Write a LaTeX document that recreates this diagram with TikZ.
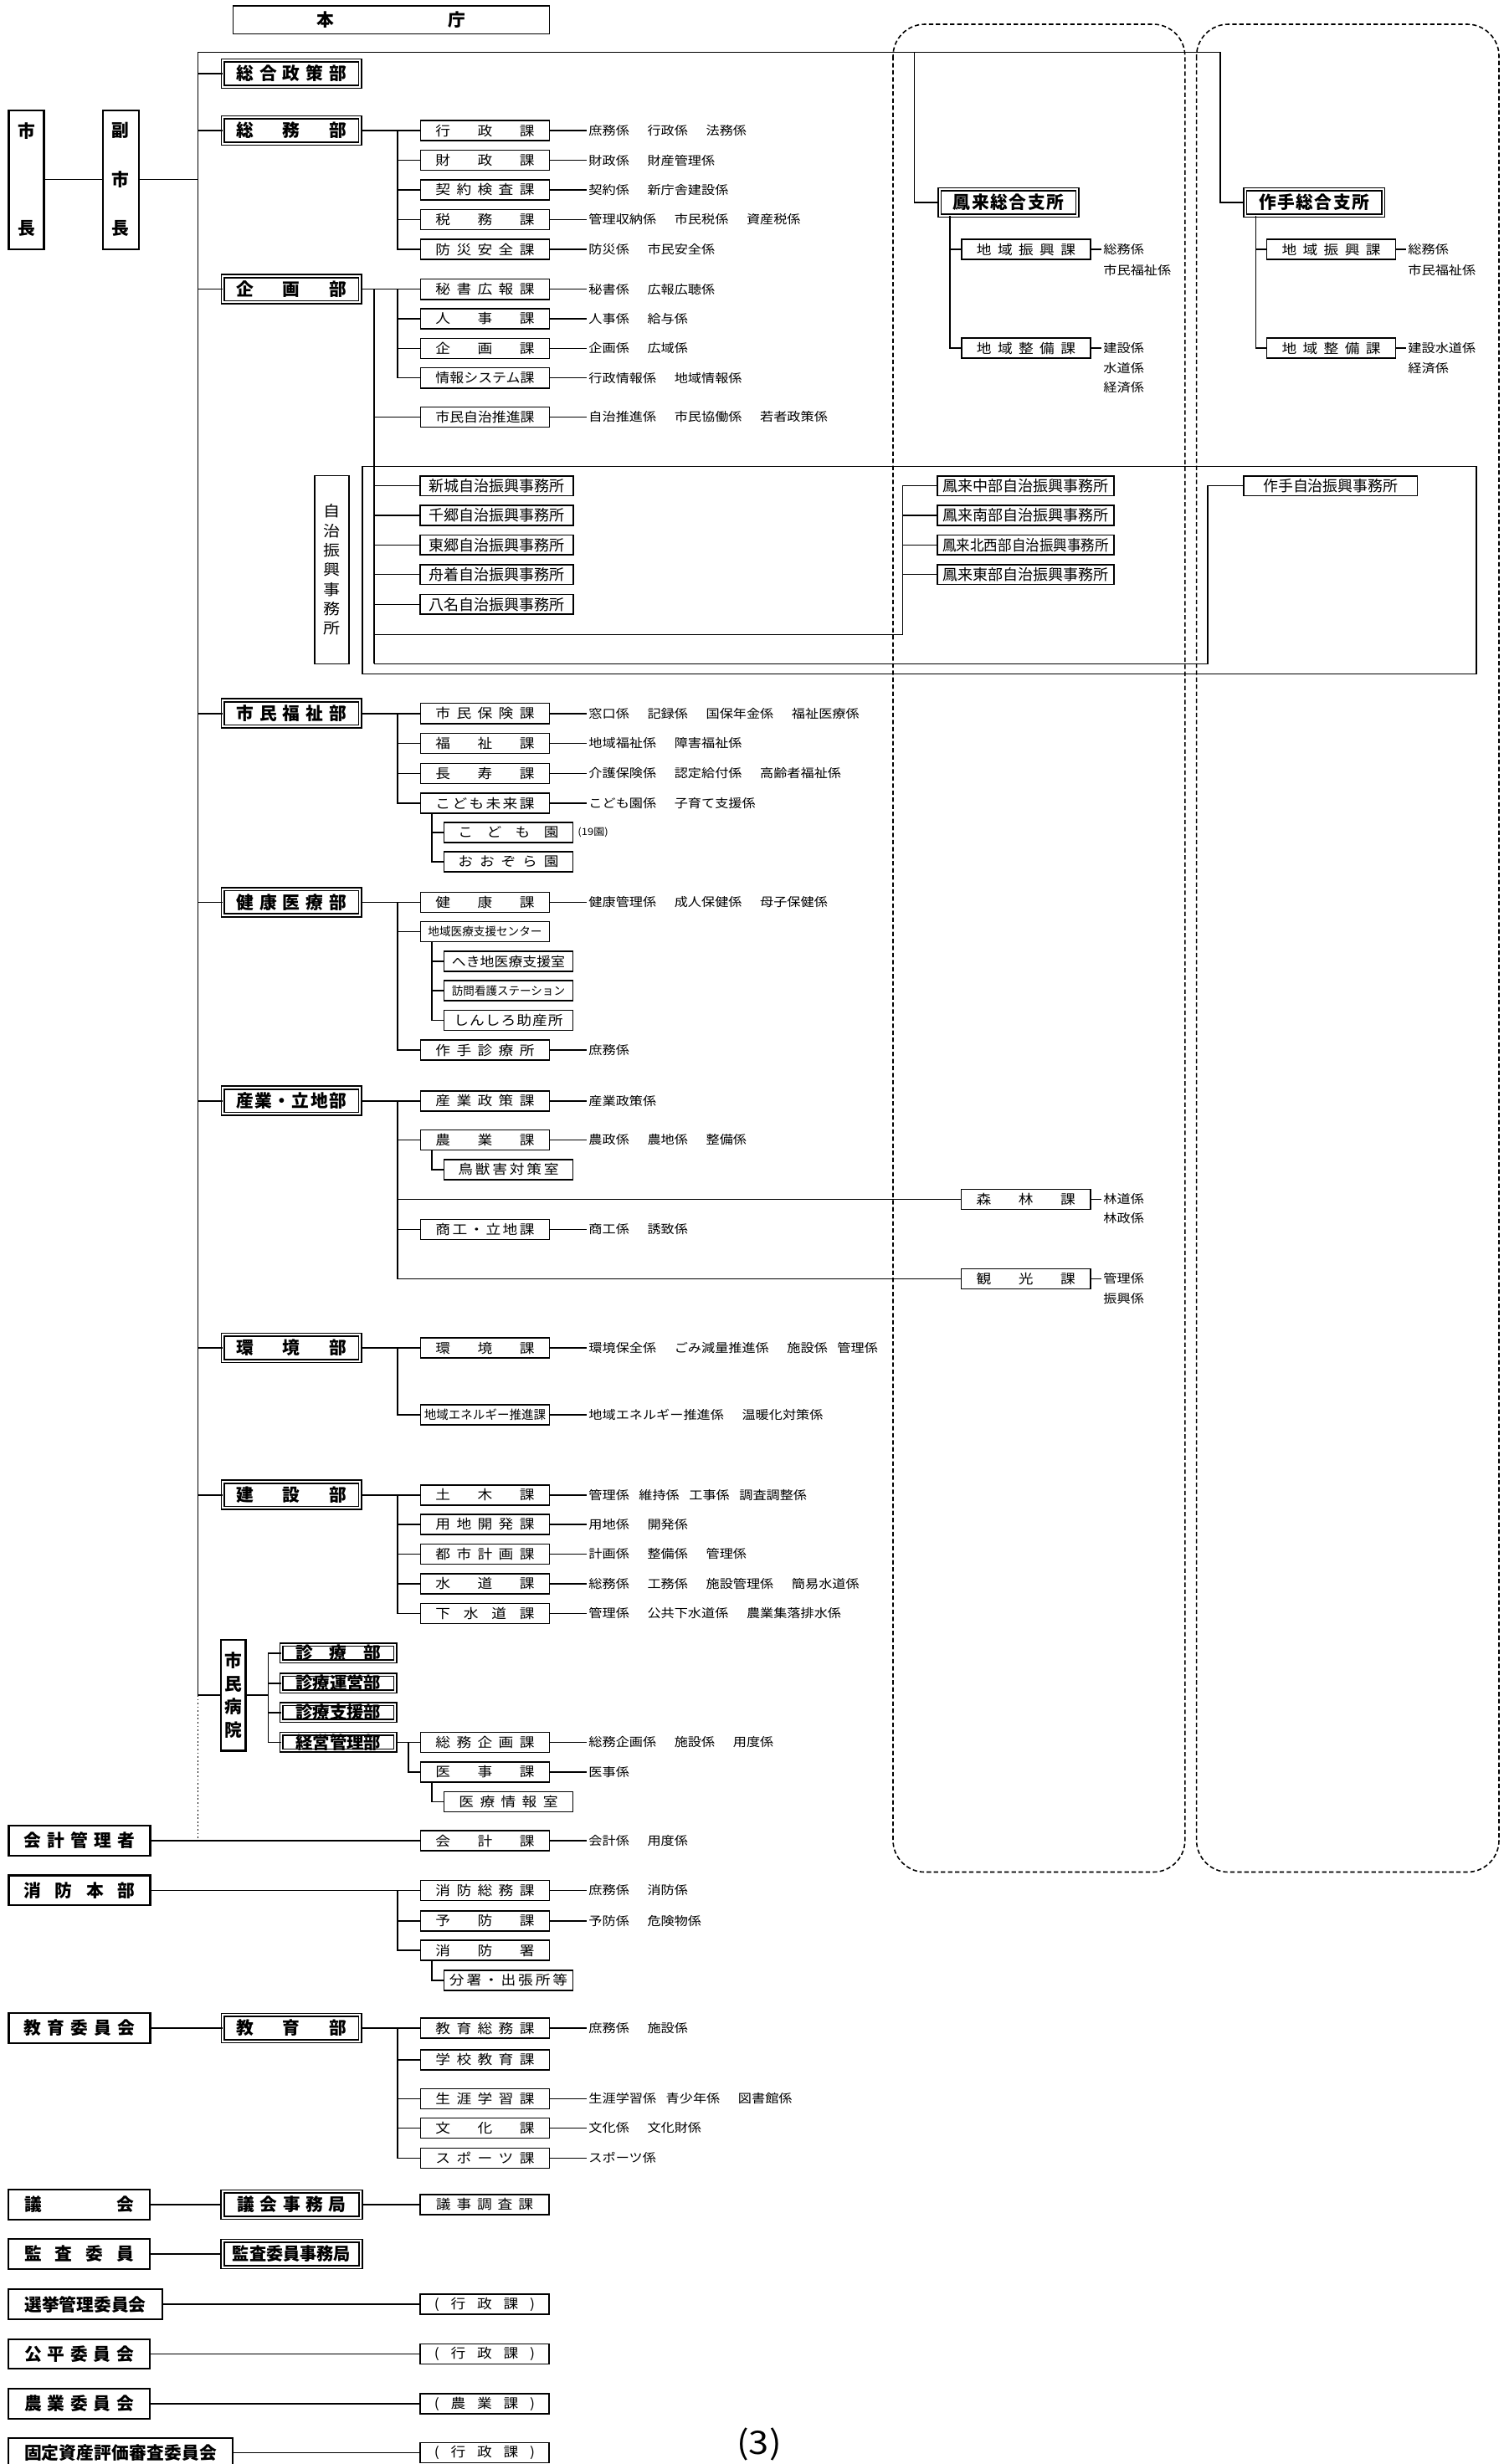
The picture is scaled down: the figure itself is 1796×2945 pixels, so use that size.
\documentclass[tikz,border=0pt]{standalone}
\usepackage{fontspec}
\usepackage{graphicx}
\setmainfont{Noto Sans CJK JP}[FakeStretch=1.12]
\newfontfamily\jpb{Noto Sans CJK JP}
\newcommand\kafont{\fontsize{4.5}{5.5}\selectfont}
\newcommand\jfont{\fontsize{5.1}{6}\selectfont}
\newcommand\kkfont{\fontsize{4.1}{5}\selectfont}
\newcommand\bufont{\jpb\bfseries\fontsize{5.9}{7}\selectfont}
\newcommand\smfont{\fontsize{3.9}{5}\selectfont}
\newcommand\gap{\hspace{1.5em}}
\newcommand\sgap{\hspace{0.8em}}
% spread the characters of a label over a fixed width
\newsavebox\sprbox
\def\sprfirst#1{#1\sprnext}
\def\sprnext#1{\ifx#1\relax\else\hfil#1\expandafter\sprnext\fi}
\newcommand\spr[2]{\sbox\sprbox{#2}%
  \ifdim\wd\sprbox>#1\relax\resizebox{#1}{\height}{\usebox\sprbox}%
  \else\makebox[#1][s]{\sprfirst#2\relax}\fi}
% vertical label
\def\vsprfirst#1{\hbox to 1.1em{\hss#1\hss}\vsprnext}
\def\vsprnext#1{\ifx#1\relax\else\vfill\hbox to 1.1em{\hss#1\hss}\expandafter\vsprnext\fi}
\newcommand\vspr[2]{\vbox to #1{\vsprfirst#2\relax}}

\begin{document}
\begin{tikzpicture}[x=0.01cm, y=-0.01cm,
  ln/.style={line width=0.45pt},
  kabox/.style={draw, line width=0.45pt, minimum width=1.54cm, minimum height=0.24cm,
    inner sep=0pt, font=\kafont},
  bubox/.style={draw, double, double distance=0.6pt, line width=0.45pt,
    minimum width=1.637cm, minimum height=0.313cm, inner sep=0pt, font=\bufont},
  byobox/.style={bubox, minimum width=1.357cm, minimum height=0.197cm},
  headbox/.style={draw, line width=0.65pt, minimum width=1.69cm, minimum height=0.356cm,
    inner sep=0pt, font=\bufont},
  tatebox/.style={draw, line width=0.65pt, inner sep=0pt, font=\bufont},
  jbox/.style={draw, line width=0.45pt, minimum height=0.236cm, inner sep=0pt, font=\jfont},
  kakari/.style={anchor=west, inner sep=0.5pt, font=\kkfont},
  hakobox/.style={draw, line width=0.45pt, dash pattern=on 1.5pt off 0.9pt, rounded corners=0.38cm},
]

\useasboundingbox (0,0) rectangle (1796,2945);
\clip (0,0) rectangle (1796,2945);

% Branch office frames
\draw[hakobox] (1067,29) rectangle (1415.8,2237.5);
\draw[hakobox] (1429.6,29) rectangle (1791,2237.5);

% Header
\node[draw, line width=0.45pt, minimum width=3.78cm, minimum height=0.33cm, inner sep=0pt,
  font=\bufont] (honcho) at (467.5,23.8) {\spr{1.78cm}{本庁}};

% Mayor and deputy
\node[tatebox, minimum width=0.42cm, minimum height=1.66cm] (shicho) at (31.5,214.7) {\vspr{1.34cm}{市長}};
\node[tatebox, minimum width=0.43cm, minimum height=1.66cm] (fuku) at (144.2,214.7) {\vspr{1.34cm}{副市長}};

% Trunk and branch columns
\coordinate (trtop) at (236.4,62.3);
\coordinate (trbyo) at (236.4,2026);
\coordinate (trkai) at (236.4,2200);
\coordinate (horaibr) at (1092.3,62.3);
\coordinate (sakutebr) at (1458,62.3);
\coordinate (kx) at (475,0);
\coordinate (sx) at (516,0);
\coordinate (jx) at (446.8,0);
\coordinate (hx) at (1078.5,0);
\coordinate (tx) at (1442.8,0);
\coordinate (bx) at (320.5,0);
\coordinate (kx3) at (488,0);
\coordinate (hbx) at (1134.7,0);
\coordinate (sbx) at (1500.5,0);
\coordinate (jmid) at (446.8,758.3);
\coordinate (jbot) at (446.8,793.3);

% =============================================
% Departments
% =============================================
\node[bubox] (sogo) at (348.3,88) {\spr{1.31cm}{総合政策部}};
\node[bubox] (somu) at (348.3,156) {\spr{1.31cm}{総務部}};
\node[bubox] (kikaku) at (348.3,345.7) {\spr{1.31cm}{企画部}};
\node[bubox] (fukushi) at (348.3,852.7) {\spr{1.31cm}{市民福祉部}};
\node[bubox] (kenko) at (348.3,1078.3) {\spr{1.31cm}{健康医療部}};
\node[bubox] (sangyo) at (348.3,1315.7) {\spr{1.31cm}{産業・立地部}};
\node[bubox] (kankyo) at (348.3,1611) {\spr{1.31cm}{環境部}};
\node[bubox] (kensetsu) at (348.3,1786.7) {\spr{1.31cm}{建設部}};
\node[tatebox, minimum width=0.293cm, minimum height=1.326cm] (byoin) at (278.9,2026) {\vspr{1.0cm}{市民病院}};

% 総務部
\node[kabox] (gyosei) at (579.5,156) {\spr{1.18cm}{行政課}};
\node[kabox] (zaisei) at (579.5,191.5) {\spr{1.18cm}{財政課}};
\node[kabox] (keiyaku) at (579.5,227) {\spr{1.18cm}{契約検査課}};
\node[kabox] (zeimu) at (579.5,262.5) {\spr{1.18cm}{税務課}};
\node[kabox] (bosai) at (579.5,298) {\spr{1.18cm}{防災安全課}};
\node[kakari] (gyosei-k) at (701,156) {庶務係\gap 行政係\gap 法務係};
\node[kakari] (zaisei-k) at (701,191.5) {財政係\gap 財産管理係};
\node[kakari] (keiyaku-k) at (701,227) {契約係\gap 新庁舎建設係};
\node[kakari] (zeimu-k) at (701,262.5) {管理収納係\gap 市民税係\gap 資産税係};
\node[kakari] (bosai-k) at (701,298) {防災係\gap 市民安全係};

% 企画部
\node[kabox] (hisho) at (579.5,345.7) {\spr{1.18cm}{秘書広報課}};
\node[kabox] (jinji) at (579.5,381) {\spr{1.18cm}{人事課}};
\node[kabox] (kikakuka) at (579.5,416.3) {\spr{1.18cm}{企画課}};
\node[kabox] (joho) at (579.5,451.7) {\spr{1.18cm}{情報システム課}};
\node[kabox] (jichi) at (579.5,498.3) {\spr{1.18cm}{市民自治推進課}};
\node[kakari] (hisho-k) at (701,345.7) {秘書係\gap 広報広聴係};
\node[kakari] (jinji-k) at (701,381) {人事係\gap 給与係};
\node[kakari] (kikakuka-k) at (701,416.3) {企画係\gap 広域係};
\node[kakari] (joho-k) at (701,451.7) {行政情報係\gap 地域情報係};
\node[kakari] (jichi-k) at (701,498.3) {自治推進係\gap 市民協働係\gap 若者政策係};

% 自治振興事務所
\draw[ln] (433,557.3) rectangle (1763.7,805.3);
\node[tatebox, line width=0.45pt, font=\jfont, minimum width=0.415cm, minimum height=2.246cm]
  (jlabel) at (396.5,681) {\vspr{1.55cm}{自治振興事務所}};
\node[jbox, minimum width=1.825cm] (shinshiro) at (593.5,580.7) {\spr{1.62cm}{新城自治振興事務所}};
\node[jbox, minimum width=1.825cm] (chigo) at (593.5,616) {\spr{1.62cm}{千郷自治振興事務所}};
\node[jbox, minimum width=1.825cm] (togo) at (593.5,651.3) {\spr{1.62cm}{東郷自治振興事務所}};
\node[jbox, minimum width=1.825cm] (funatsuki) at (593.5,686.7) {\spr{1.62cm}{舟着自治振興事務所}};
\node[jbox, minimum width=1.825cm] (yana) at (593.5,722.3) {\spr{1.62cm}{八名自治振興事務所}};
\node[jbox, minimum width=2.11cm] (hchubu) at (1225.5,580.7) {\spr{1.98cm}{鳳来中部自治振興事務所}};
\node[jbox, minimum width=2.11cm] (hnanbu) at (1225.5,616) {\spr{1.98cm}{鳳来南部自治振興事務所}};
\node[jbox, minimum width=2.11cm] (hhokusei) at (1225.5,651.3) {\spr{1.98cm}{鳳来北西部自治振興事務所}};
\node[jbox, minimum width=2.11cm] (htobu) at (1225.5,686.7) {\spr{1.98cm}{鳳来東部自治振興事務所}};
\node[jbox, minimum width=2.076cm] (sakutej) at (1589.8,580.7) {\spr{1.61cm}{作手自治振興事務所}};

% 市民福祉部
\node[kabox] (hoken) at (579.5,852.7) {\spr{1.18cm}{市民保険課}};
\node[kabox] (fukushika) at (579.5,888.3) {\spr{1.18cm}{福祉課}};
\node[kabox] (choju) at (579.5,924.3) {\spr{1.18cm}{長寿課}};
\node[kabox] (mirai) at (579.5,960) {\spr{1.18cm}{こども未来課}};
\node[kabox] (kodomoen) at (607.5,995) {\spr{1.2cm}{こども園}};
\node[kabox] (ozora) at (607.5,1030) {\spr{1.2cm}{おおぞら園}};
\node[kakari] (hoken-k) at (701,852.7) {窓口係\gap 記録係\gap 国保年金係\gap 福祉医療係};
\node[kakari] (fukushika-k) at (701,888.3) {地域福祉係\gap 障害福祉係};
\node[kakari] (choju-k) at (701,924.3) {介護保険係\gap 認定給付係\gap 高齢者福祉係};
\node[kakari] (mirai-k) at (701,960) {こども園係\gap 子育て支援係};
\node[kakari, font=\fontsize{3.3}{4}\selectfont] (kodomoen-k) at (688,995) {(19園)};

% 健康医療部
\node[kabox] (kenkoka) at (579.5,1078.3) {\spr{1.18cm}{健康課}};
\node[kabox, font=\smfont] (chiiki) at (579.5,1113.3) {\spr{1.36cm}{地域医療支援センター}};
\node[kabox] (hekichi) at (607.5,1149) {\spr{1.35cm}{へき地医療支援室}};
\node[kabox, font=\smfont] (homon) at (607.5,1184) {\spr{1.35cm}{訪問看護ステーション}};
\node[kabox] (josan) at (607.5,1219.3) {\spr{1.3cm}{しんしろ助産所}};
\node[kabox] (sakutesin) at (579.5,1255) {\spr{1.18cm}{作手診療所}};
\node[kakari] (kenkoka-k) at (701,1078.3) {健康管理係\gap 成人保健係\gap 母子保健係};
\node[kakari] (sakutesin-k) at (701,1255) {庶務係};

% 産業・立地部
\node[kabox] (sanseisaku) at (579.5,1315.7) {\spr{1.18cm}{産業政策課}};
\node[kabox] (nogyo) at (579.5,1362.3) {\spr{1.18cm}{農業課}};
\node[kabox] (chojugai) at (607.5,1397.7) {\spr{1.2cm}{鳥獣害対策室}};
\node[kabox] (shinrin) at (1225.7,1433.3) {\spr{1.18cm}{森林課}};
\node[kabox] (shoko) at (579.5,1469.3) {\spr{1.18cm}{商工・立地課}};
\node[kabox] (kanko) at (1225.7,1528.3) {\spr{1.18cm}{観光課}};
\node[kakari] (sanseisaku-k) at (701,1315.7) {産業政策係};
\node[kakari] (nogyo-k) at (701,1362.3) {農政係\gap 農地係\gap 整備係};
\node[kakari] (shinrin-k) at (1316,1433.3) {林道係};
\node[kakari] (shinrin-k2) at (1316,1456) {林政係};
\node[kakari] (shoko-k) at (701,1469.3) {商工係\gap 誘致係};
\node[kakari] (kanko-k) at (1316,1528.3) {管理係};
\node[kakari] (kanko-k2) at (1316,1551.7) {振興係};

% 環境部
\node[kabox] (kankyoka) at (579.5,1611) {\spr{1.18cm}{環境課}};
\node[kabox, font=\fontsize{4.2}{5}\selectfont] (energy) at (579.5,1691) {\spr{1.45cm}{地域エネルギー推進課}};
\node[kakari] (kankyoka-k) at (701,1611) {環境保全係\gap ごみ減量推進係\gap 施設係\sgap 管理係};
\node[kakari] (energy-k) at (701,1691) {地域エネルギー推進係\gap 温暖化対策係};

% 建設部
\node[kabox] (doboku) at (579.5,1786.7) {\spr{1.18cm}{土木課}};
\node[kabox] (yochi) at (579.5,1821.7) {\spr{1.18cm}{用地開発課}};
\node[kabox] (toshi) at (579.5,1857.3) {\spr{1.18cm}{都市計画課}};
\node[kabox] (suido) at (579.5,1892.7) {\spr{1.18cm}{水道課}};
\node[kabox] (gesui) at (579.5,1928.3) {\spr{1.18cm}{下水道課}};
\node[kakari] (doboku-k) at (701,1786.7) {管理係\sgap 維持係\sgap 工事係\sgap 調査調整係};
\node[kakari] (yochi-k) at (701,1821.7) {用地係\gap 開発係};
\node[kakari] (toshi-k) at (701,1857.3) {計画係\gap 整備係\gap 管理係};
\node[kakari] (suido-k) at (701,1892.7) {総務係\gap 工務係\gap 施設管理係\gap 簡易水道係};
\node[kakari] (gesui-k) at (701,1928.3) {管理係\gap 公共下水道係\gap 農業集落排水係};

% 市民病院
\node[byobox] (shinryo) at (404.3,1975.7) {\spr{1.02cm}{診療部}};
\node[byobox] (unei) at (404.3,2011.7) {\spr{1.02cm}{診療運営部}};
\node[byobox] (shien) at (404.3,2046.7) {\spr{1.02cm}{診療支援部}};
\node[byobox] (keiei) at (404.3,2082.3) {\spr{1.02cm}{経営管理部}};
\node[kabox] (somukik) at (579.5,2082.3) {\spr{1.18cm}{総務企画課}};
\node[kabox] (iji) at (579.5,2117.7) {\spr{1.18cm}{医事課}};
\node[kabox] (iryojoho) at (607.5,2153.3) {\spr{1.18cm}{医療情報室}};
\node[kakari] (somukik-k) at (701,2082.3) {総務企画係\gap 施設係\gap 用度係};
\node[kakari] (iji-k) at (701,2117.7) {医事係};

% =============================================
% Branch offices
% =============================================
\node[bubox, minimum width=1.647cm] (horai) at (1205,242) {\spr{1.32cm}{鳳来総合支所}};
\node[kabox] (hshinko) at (1226,298) {\spr{1.18cm}{地域振興課}};
\node[kabox] (hseibi) at (1226,416) {\spr{1.18cm}{地域整備課}};
\node[kakari] (hshinko-k) at (1316,298) {総務係};
\node[kakari] (hshinko-k2) at (1316,322.7) {市民福祉係};
\node[kakari] (hseibi-k) at (1316,416) {建設係};
\node[kakari] (hseibi-k2) at (1316,440) {水道係};
\node[kakari] (hseibi-k3) at (1316,463) {経済係};

\node[bubox, minimum width=1.647cm] (sakute) at (1570.2,242) {\spr{1.32cm}{作手総合支所}};
\node[kabox] (sshinko) at (1590.6,298) {\spr{1.18cm}{地域振興課}};
\node[kabox] (sseibi) at (1590.6,416) {\spr{1.18cm}{地域整備課}};
\node[kakari] (sshinko-k) at (1680,298) {総務係};
\node[kakari] (sshinko-k2) at (1680,322.7) {市民福祉係};
\node[kakari] (sseibi-k) at (1680,416) {建設水道係};
\node[kakari] (sseibi-k2) at (1680,440) {経済係};

% =============================================
% Lower boxes
% =============================================
\node[headbox] (kaikei) at (95,2200) {\spr{1.33cm}{会計管理者}};
\node[kabox] (kaikeika) at (579.5,2200) {\spr{1.18cm}{会計課}};
\node[kakari] (kaikeika-k) at (701,2200) {会計係\gap 用度係};

\node[headbox] (shobo) at (95,2259.3) {\spr{1.33cm}{消防本部}};
\node[kabox] (shobosomu) at (579.5,2259.3) {\spr{1.18cm}{消防総務課}};
\node[kabox] (yobo) at (579.5,2295.7) {\spr{1.18cm}{予防課}};
\node[kabox] (shobosho) at (579.5,2331) {\spr{1.18cm}{消防署}};
\node[kabox] (bunsho) at (607.5,2366.7) {\spr{1.41cm}{分署・出張所等}};
\node[kakari] (shobosomu-k) at (701,2259.3) {庶務係\gap 消防係};
\node[kakari] (yobo-k) at (701,2295.7) {予防係\gap 危険物係};

\node[headbox] (kyoi) at (95,2424) {\spr{1.33cm}{教育委員会}};
\node[bubox] (kyoiku) at (348.3,2424) {\spr{1.31cm}{教育部}};
\node[kabox] (kyosomu) at (579.5,2424) {\spr{1.18cm}{教育総務課}};
\node[kabox] (gakko) at (579.5,2461.7) {\spr{1.18cm}{学校教育課}};
\node[kabox] (shogai) at (579.5,2508.3) {\spr{1.18cm}{生涯学習課}};
\node[kabox] (bunka) at (579.5,2543.3) {\spr{1.18cm}{文化課}};
\node[kabox] (sports) at (579.5,2579.3) {\spr{1.18cm}{スポーツ課}};
\node[kakari] (kyosomu-k) at (701,2424) {庶務係\gap 施設係};
\node[kakari] (shogai-k) at (701,2508.3) {生涯学習係\sgap 青少年係\gap 図書館係};
\node[kakari] (bunka-k) at (701,2543.3) {文化係\gap 文化財係};
\node[kakari] (sports-k) at (701,2579.3) {スポーツ係};

\node[headbox] (gikai) at (94.7,2635) {\spr{1.31cm}{議会}};
\node[bubox, minimum width=1.647cm] (gikaijm) at (348.5,2635) {\spr{1.3cm}{議会事務局}};
\node[kabox] (gijichosa) at (579,2635) {\spr{1.16cm}{議事調査課}};

\node[headbox] (kansa) at (94.7,2694) {\spr{1.31cm}{監査委員}};
\node[bubox, minimum width=1.647cm] (kansajm) at (348.5,2694) {\spr{1.41cm}{監査委員事務局}};

\node[headbox, minimum width=1.837cm] (senkyo) at (102,2754) {\spr{1.45cm}{選挙管理委員会}};
\node[kabox] (senkyoka) at (579,2754) {\spr{1.2cm}{(行政課)}};

\node[headbox] (kohei) at (94.7,2813.5) {\spr{1.31cm}{公平委員会}};
\node[kabox] (koheika) at (579,2813.5) {\spr{1.2cm}{(行政課)}};

\node[headbox] (noi) at (94.7,2873) {\spr{1.31cm}{農業委員会}};
\node[kabox] (noika) at (579,2873) {\spr{1.2cm}{(農業課)}};

\node[headbox, minimum width=2.678cm] (kotei) at (144.1,2931.5) {\spr{2.30cm}{固定資産評価審査委員会}};
\node[kabox] (koteika) at (579,2931.5) {\spr{1.2cm}{(行政課)}};

\node[font=\fontsize{11}{13}\selectfont, inner sep=0pt] (pageno) at (907,2921) {(3)};

% =============================================
% Connectors
% =============================================
% top level
\draw[ln] (shicho) -- (fuku);
\draw[ln] (fuku) -- (fuku -| trtop);
\draw[ln] (trtop) -- (trbyo);
\draw[ln, dash pattern=on 0.5pt off 0.8pt] (trbyo) -- (trkai);
\draw[ln] (trtop) -- (sakutebr) |- (sakute);
\draw[ln] (horaibr) |- (horai);
\draw[ln] (trtop |- sogo) -- (sogo);
\draw[ln] (trtop |- somu) -- (somu);
\draw[ln] (trtop |- kikaku) -- (kikaku);
\draw[ln] (trtop |- fukushi) -- (fukushi);
\draw[ln] (trtop |- kenko) -- (kenko);
\draw[ln] (trtop |- sangyo) -- (sangyo);
\draw[ln] (trtop |- kankyo) -- (kankyo);
\draw[ln] (trtop |- kensetsu) -- (kensetsu);
\draw[ln] (trbyo) -- (byoin);

% 総務部
\draw[ln] (somu) -- (gyosei);
\draw[ln] (kx |- gyosei) |- (bosai);
\draw[ln] (kx |- zaisei) -- (zaisei);
\draw[ln] (kx |- keiyaku) -- (keiyaku);
\draw[ln] (kx |- zeimu) -- (zeimu);
\draw[ln] (gyosei) -- (gyosei-k);
\draw[ln] (zaisei) -- (zaisei-k);
\draw[ln] (keiyaku) -- (keiyaku-k);
\draw[ln] (zeimu) -- (zeimu-k);
\draw[ln] (bosai) -- (bosai-k);

% 企画部
\draw[ln] (kikaku) -- (hisho);
\draw[ln] (kx |- hisho) |- (joho);
\draw[ln] (kx |- jinji) -- (jinji);
\draw[ln] (kx |- kikakuka) -- (kikakuka);
\draw[ln] (jx |- kikaku) -- (jbot);
\draw[ln] (jx |- jichi) -- (jichi);
\draw[ln] (hisho) -- (hisho-k);
\draw[ln] (jinji) -- (jinji-k);
\draw[ln] (kikakuka) -- (kikakuka-k);
\draw[ln] (joho) -- (joho-k);
\draw[ln] (jichi) -- (jichi-k);

% 自治振興事務所
\draw[ln] (jx |- shinshiro) -- (shinshiro);
\draw[ln] (jx |- chigo) -- (chigo);
\draw[ln] (jx |- togo) -- (togo);
\draw[ln] (jx |- funatsuki) -- (funatsuki);
\draw[ln] (jx |- yana) -- (yana);
\draw[ln] (jmid) -| (hx |- hchubu) -- (hchubu);
\draw[ln] (hx |- hnanbu) -- (hnanbu);
\draw[ln] (hx |- hhokusei) -- (hhokusei);
\draw[ln] (hx |- htobu) -- (htobu);
\draw[ln] (jbot) -| (tx |- sakutej) -- (sakutej);

% 市民福祉部
\draw[ln] (fukushi) -- (hoken);
\draw[ln] (kx |- hoken) |- (mirai);
\draw[ln] (kx |- fukushika) -- (fukushika);
\draw[ln] (kx |- choju) -- (choju);
\draw[ln] (sx |- mirai.south) |- (ozora);
\draw[ln] (sx |- kodomoen) -- (kodomoen);
\draw[ln] (hoken) -- (hoken-k);
\draw[ln] (fukushika) -- (fukushika-k);
\draw[ln] (choju) -- (choju-k);
\draw[ln] (mirai) -- (mirai-k);

% 健康医療部
\draw[ln] (kenko) -- (kenkoka);
\draw[ln] (kx |- kenkoka) |- (sakutesin);
\draw[ln] (kx |- chiiki) -- (chiiki);
\draw[ln] (sx |- chiiki.south) |- (josan);
\draw[ln] (sx |- hekichi) -- (hekichi);
\draw[ln] (sx |- homon) -- (homon);
\draw[ln] (kenkoka) -- (kenkoka-k);
\draw[ln] (sakutesin) -- (sakutesin-k);

% 産業・立地部
\draw[ln] (sangyo) -- (sanseisaku);
\draw[ln] (kx |- sanseisaku) |- (kanko);
\draw[ln] (kx |- nogyo) -- (nogyo);
\draw[ln] (kx |- shinrin) -- (shinrin);
\draw[ln] (kx |- shoko) -- (shoko);
\draw[ln] (sx |- nogyo.south) |- (chojugai);
\draw[ln] (sanseisaku) -- (sanseisaku-k);
\draw[ln] (nogyo) -- (nogyo-k);
\draw[ln] (shinrin) -- (shinrin-k);
\draw[ln] (shoko) -- (shoko-k);
\draw[ln] (kanko) -- (kanko-k);

% 環境部
\draw[ln] (kankyo) -- (kankyoka);
\draw[ln] (kx |- kankyoka) |- (energy);
\draw[ln] (kankyoka) -- (kankyoka-k);
\draw[ln] (energy) -- (energy-k);

% 建設部
\draw[ln] (kensetsu) -- (doboku);
\draw[ln] (kx |- doboku) |- (gesui);
\draw[ln] (kx |- yochi) -- (yochi);
\draw[ln] (kx |- toshi) -- (toshi);
\draw[ln] (kx |- suido) -- (suido);
\draw[ln] (doboku) -- (doboku-k);
\draw[ln] (yochi) -- (yochi-k);
\draw[ln] (toshi) -- (toshi-k);
\draw[ln] (suido) -- (suido-k);
\draw[ln] (gesui) -- (gesui-k);

% 市民病院
\draw[ln] (byoin) -- (bx |- byoin);
\draw[ln] (shinryo) -| (bx |- keiei) -- (keiei);
\draw[ln] (bx |- unei) -- (unei);
\draw[ln] (bx |- shien) -- (shien);
\draw[ln] (keiei) -- (somukik);
\draw[ln] (kx3 |- somukik) |- (iji);
\draw[ln] (sx |- iji.south) |- (iryojoho);
\draw[ln] (somukik) -- (somukik-k);
\draw[ln] (iji) -- (iji-k);

% 支所
\draw[ln] (hbx |- horai.south) |- (hseibi);
\draw[ln] (hbx |- hshinko) -- (hshinko);
\draw[ln] (hshinko) -- (hshinko-k);
\draw[ln] (hseibi) -- (hseibi-k);
\draw[ln] (sbx |- sakute.south) |- (sseibi);
\draw[ln] (sbx |- sshinko) -- (sshinko);
\draw[ln] (sshinko) -- (sshinko-k);
\draw[ln] (sseibi) -- (sseibi-k);

% lower
\draw[ln] (kaikei) -- (kaikeika);
\draw[ln] (kaikeika) -- (kaikeika-k);
\draw[ln] (shobo) -- (shobosomu);
\draw[ln] (kx |- shobosomu) |- (shobosho);
\draw[ln] (kx |- yobo) -- (yobo);
\draw[ln] (sx |- shobosho.south) |- (bunsho);
\draw[ln] (shobosomu) -- (shobosomu-k);
\draw[ln] (yobo) -- (yobo-k);
\draw[ln] (kyoi) -- (kyoiku);
\draw[ln] (kyoiku) -- (kyosomu);
\draw[ln] (kx |- kyosomu) |- (sports);
\draw[ln] (kx |- gakko) -- (gakko);
\draw[ln] (kx |- shogai) -- (shogai);
\draw[ln] (kx |- bunka) -- (bunka);
\draw[ln] (kyosomu) -- (kyosomu-k);
\draw[ln] (shogai) -- (shogai-k);
\draw[ln] (bunka) -- (bunka-k);
\draw[ln] (sports) -- (sports-k);
\draw[ln] (gikai) -- (gikaijm);
\draw[ln] (gikaijm) -- (gijichosa);
\draw[ln] (kansa) -- (kansajm);
\draw[ln] (senkyo) -- (senkyoka);
\draw[ln] (kohei) -- (koheika);
\draw[ln] (noi) -- (noika);
\draw[ln] (kotei) -- (koteika);

\end{tikzpicture}
\end{document}
